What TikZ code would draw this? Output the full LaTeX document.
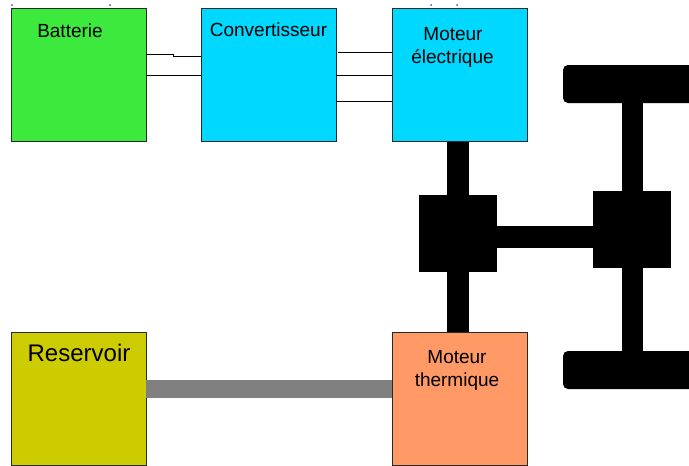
\documentclass[tikz,border=0pt]{standalone}
\usepackage{fontspec}
\setmainfont{Liberation Sans}
\definecolor{batgreen}{RGB}{62,233,62}
\definecolor{convcyan}{RGB}{0,216,255}
\definecolor{mtorange}{RGB}{255,153,102}
\definecolor{resolive}{RGB}{204,204,0}
\definecolor{pipegray}{RGB}{128,128,128}
\definecolor{edgegray}{RGB}{40,40,40}
\definecolor{handle}{RGB}{70,80,170}
\tikzset{
  box/.style={draw=edgegray, line width=0.9pt, minimum width=135pt, minimum height=133pt, inner sep=0pt, outer sep=0pt},
  lbl/.style={inner sep=0pt, font=\fontsize{19}{23}\selectfont, anchor=base},
  biglbl/.style={inner sep=0pt, font=\fontsize{24}{28}\selectfont, anchor=base},
  wire/.style={draw=black, line width=1pt},
  blockbox/.style={fill=black, minimum width=78pt, minimum height=77pt, inner sep=0pt, outer sep=0pt},
  wheel/.style={fill=black, rounded corners=5pt},
  shaft/.style={draw=black, line width=22pt, line cap=butt},
  pipe/.style={draw=pipegray, line width=18pt, line cap=butt}
}
\begin{document}
\begin{tikzpicture}[x=1pt, y=-1pt]
\useasboundingbox (0,0) rectangle (689,466);
\clip (0,0) rectangle (689,466);
% boxes
\node[box, fill=batgreen] (bat) at (78.5,75) {};
\node[box, fill=convcyan] (conv) at (268.5,75) {};
\node[box, fill=convcyan] (me) at (459.5,75) {};
\node[box, fill=resolive] (res) at (78.5,398.5) {};
\node[box, fill=mtorange] (mt) at (459.5,398.5) {};
% labels
\node[lbl] (tbat) at (70,37) {Batterie};
\node[lbl] (tconv) at (268.5,36) {Convertisseur};
\node[lbl] (tme1) at (453,40) {Moteur};
\node[lbl] (tme2) at (452.5,63) {électrique};
\node[biglbl] (tres) at (79,361) {Reservoir};
\node[lbl] (tmt1) at (457,363) {Moteur};
\node[lbl] (tmt2) at (457,386) {thermique};
% wires
\coordinate (k1) at (173,54);
\coordinate (k2) at (173,56);
\draw[wire] (bat.east |- k1) -- (k1) -- (k2) -- (conv.west |- k2);
\draw[wire] (bat.east |- 0,75) -- (conv.west |- 0,75);
\coordinate (w1) at (338,52);
\draw[wire] (w1) -- (me.west |- w1);
\draw[wire] (conv.east |- 0,75) -- (me.west |- 0,75);
\draw[wire] (conv.east |- 0,101) -- (me.west |- 0,101);
% mechanical parts
\node[blockbox] (bl) at (458,233.5) {};
\node[blockbox] (br) at (632,229.5) {};
\fill[wheel] (563,65) rectangle (710,103);
\node[inner sep=0pt, outer sep=0pt, minimum width=147pt, minimum height=38pt] (tw) at (636.5,84) {};
\fill[wheel] (563,351) rectangle (710,389);
\node[inner sep=0pt, outer sep=0pt, minimum width=147pt, minimum height=38pt] (bw) at (636.5,370) {};
\draw[shaft] (me.south -| bl) -- (bl.north);
\draw[shaft] (bl.south) -- (mt.north -| bl);
\draw[shaft] (bl.east |- 0,237) -- (br.west |- 0,237);
\draw[shaft, line width=21pt] (tw.south -| br) -- (br.north);
\draw[shaft, line width=21pt] (br.south) -- (bw.north -| br);
% fuel pipe
\draw[pipe] (res.east |- 0,389) -- (mt.west |- 0,389);
% selection handles
\fill[handle] (12,5) circle (1pt);
\fill[handle] (110,5) circle (1pt);
\fill[handle] (431,5) circle (1pt);
\fill[handle] (457,5) circle (1pt);
\end{tikzpicture}
\end{document}
